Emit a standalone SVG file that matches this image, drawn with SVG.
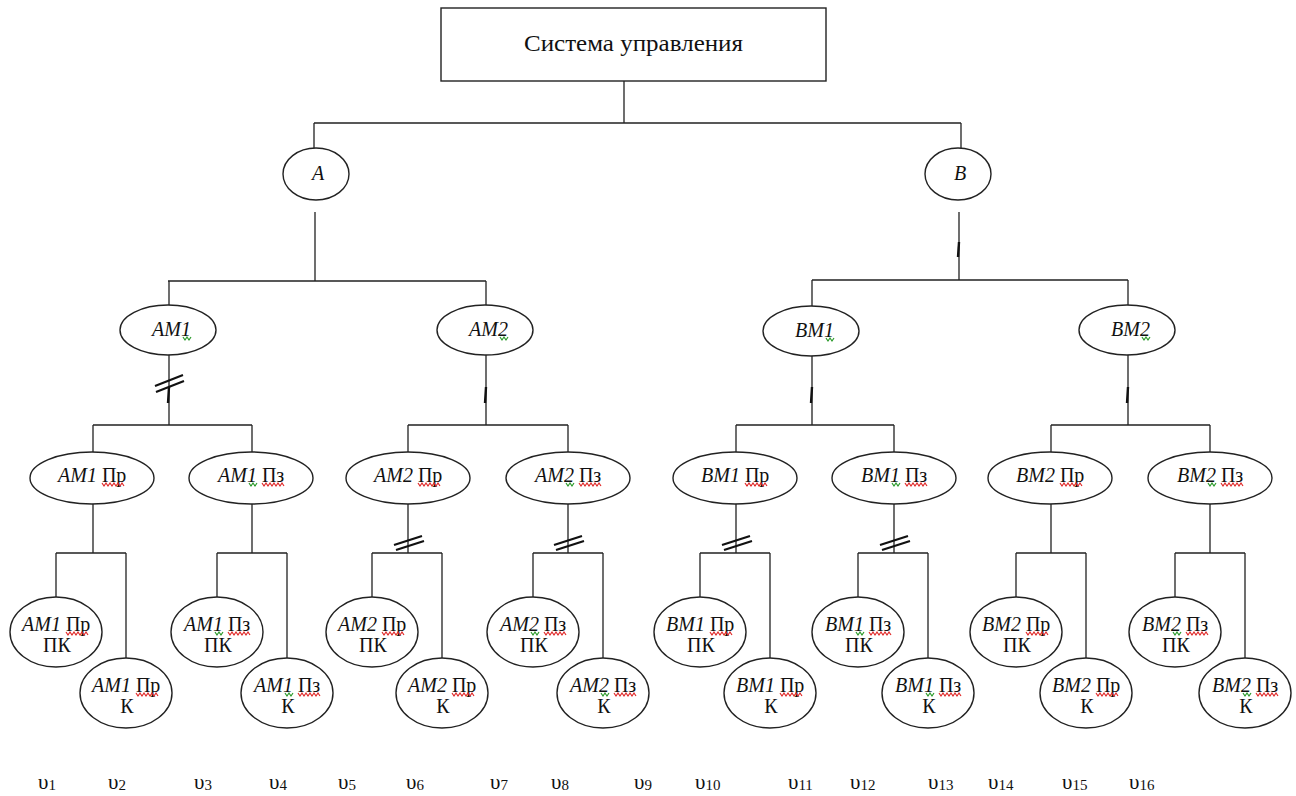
<svg xmlns="http://www.w3.org/2000/svg" xmlns:xlink="http://www.w3.org/1999/xlink" width="1296" height="796" viewBox="0 0 1296 796">
  <style>
    .box, .nd { fill: #ffffff; stroke: #222222; stroke-width: 1.4; }
    .ln { fill: none; stroke: #222222; stroke-width: 1.3; }
    .mk { fill: none; stroke: #111111; stroke-width: 2.2; }
    .tk { fill: none; stroke: #111111; stroke-width: 2.4; }
    text { font-family: "Liberation Serif", "Times New Roman", "DejaVu Serif", serif; fill: #111111; }
    .t20 { font-size: 20px; }
    .mid { text-anchor: middle; }
    .it { font-style: italic; }
    .title { font-size: 24px; text-anchor: middle; }
    .v { font-size: 21px; }
    .sub { font-size: 15px; }
  </style>
  <defs>
    <!-- proofing underline waves -->
    <path id="wr" d="M0 0l2 3 2-3 2 3 2-3 2 3 2-3 2 3 2-3 2 3 2-3 2 3" fill="none" stroke="#e02828" stroke-width="1.2"/>
    <path id="wg" d="M0 0l2 3 2-3 2 3 2-3" fill="none" stroke="#2a9a2a" stroke-width="1.2"/>
  </defs>

  <!-- connectors -->
  <g id="connectors">
    <path class="ln" d="M624 81V123M314 123H961M314 123V148M961 123V148"/>
    <path class="ln" d="M315 212V281M168 281H486M169 281V305M486 281V305"/>
    <path class="ln" d="M959 212V280M812 280H1128M812 280V306M1128 280V305"/>
    <path class="ln" d="M169 355V425M93 425H252M93 425V452M252 425V452"/>
    <path class="ln" d="M486 355V425M408 425H568M408 425V452M568 425V452"/>
    <path class="ln" d="M812 356V425M736 425H894M736 425V452M894 425V452"/>
    <path class="ln" d="M1128 355V425M1051 425H1210M1051 425V452M1210 425V452"/>
    <!-- third level fan-outs -->
    <path class="ln" d="M93 504V553M56 553H126M56 553V597M126 553V658"/>
    <path class="ln" d="M252 504V553M217 553H287M217 553V597M287 553V658"/>
    <path class="ln" d="M408 504V553M372 553H442M372 553V597M442 553V658"/>
    <path class="ln" d="M568 504V553M533 553H603M533 553V597M603 553V658"/>
    <path class="ln" d="M736 504V553M700 553H770M700 553V597M770 553V658"/>
    <path class="ln" d="M894 504V553M858 553H928M858 553V597M928 553V658"/>
    <path class="ln" d="M1051 504V553M1016 553H1086M1016 553V597M1086 553V658"/>
    <path class="ln" d="M1210 504V553M1175 553H1245M1175 553V597M1245 553V658"/>
    <!-- single ticks -->
    <path class="tk" d="M958 257L959 242"/>
    <path class="tk" d="M168 403L169 387"/>
    <path class="tk" d="M485 403L486 387"/>
    <path class="tk" d="M811 403L812 387"/>
    <path class="tk" d="M1127 403L1128 387"/>
    <!-- double hashes -->
    <path class="mk" d="M155 386L183 375M156 392L184 381"/>
    <path class="mk" d="M394 545L422 536M396 550L424 541"/>
    <path class="mk" d="M554 545L582 536M556 550L584 541"/>
    <path class="mk" d="M722 545L750 536M724 550L752 541"/>
    <path class="mk" d="M880 545L908 536M882 550L910 541"/>
  </g>

  <!-- root -->
  <g id="n-system">
    <rect class="box" x="441" y="8" width="385" height="73"/>
    <text class="title" x="633.5" y="51" textLength="219" lengthAdjust="spacingAndGlyphs">Система управления</text>
  </g>

  <!-- first level -->
  <g id="n-A">
    <ellipse class="nd" cx="316" cy="174" rx="33" ry="26"/>
    <text class="t20 it mid" x="318" y="180">A</text>
  </g>
  <g id="n-B">
    <ellipse class="nd" cx="958" cy="174" rx="33" ry="26"/>
    <text class="t20 it mid" x="960" y="180">B</text>
  </g>

  <!-- second level -->
  <g id="n-AM1">
    <ellipse class="nd" cx="168" cy="330" rx="48" ry="25"/>
    <text class="t20 it" x="152" y="336">AM1</text>
    <use xlink:href="#wg" x="183" y="337"/>
  </g>
  <g id="n-AM2">
    <ellipse class="nd" cx="485" cy="330" rx="48" ry="25"/>
    <text class="t20 it" x="469" y="336">AM2</text>
    <use xlink:href="#wg" x="500" y="337"/>
  </g>
  <g id="n-BM1">
    <ellipse class="nd" cx="811" cy="331" rx="48" ry="25"/>
    <text class="t20 it" x="795" y="337">BM1</text>
    <use xlink:href="#wg" x="826" y="338"/>
  </g>
  <g id="n-BM2">
    <ellipse class="nd" cx="1127" cy="330" rx="48" ry="25"/>
    <text class="t20 it" x="1111" y="336">BM2</text>
    <use xlink:href="#wg" x="1142" y="337"/>
  </g>

  <!-- third level -->
  <g id="n-AM1-Pr">
    <ellipse class="nd" cx="92" cy="478" rx="62" ry="26"/>
    <text class="t20" x="58" y="482"><tspan class="it">AM1</tspan> Пр</text>
    <use xlink:href="#wr" x="102" y="483"/>
  </g>
  <g id="n-AM1-Pz">
    <ellipse class="nd" cx="251" cy="478" rx="62" ry="26"/>
    <text class="t20" x="218" y="482"><tspan class="it">AM1</tspan> Пз</text>
    <use xlink:href="#wg" x="249" y="483"/>
    <use xlink:href="#wr" x="262" y="483"/>
  </g>
  <g id="n-AM2-Pr">
    <ellipse class="nd" cx="408" cy="478" rx="62" ry="26"/>
    <text class="t20" x="374" y="482"><tspan class="it">AM2</tspan> Пр</text>
    <use xlink:href="#wr" x="418" y="483"/>
  </g>
  <g id="n-AM2-Pz">
    <ellipse class="nd" cx="568" cy="478" rx="62" ry="26"/>
    <text class="t20" x="535" y="482"><tspan class="it">AM2</tspan> Пз</text>
    <use xlink:href="#wg" x="566" y="483"/>
    <use xlink:href="#wr" x="579" y="483"/>
  </g>
  <g id="n-BM1-Pr">
    <ellipse class="nd" cx="735" cy="478" rx="62" ry="26"/>
    <text class="t20" x="701" y="482"><tspan class="it">BM1</tspan> Пр</text>
    <use xlink:href="#wr" x="745" y="483"/>
  </g>
  <g id="n-BM1-Pz">
    <ellipse class="nd" cx="894" cy="478" rx="62" ry="26"/>
    <text class="t20" x="861" y="482"><tspan class="it">BM1</tspan> Пз</text>
    <use xlink:href="#wg" x="892" y="483"/>
    <use xlink:href="#wr" x="905" y="483"/>
  </g>
  <g id="n-BM2-Pr">
    <ellipse class="nd" cx="1050" cy="478" rx="62" ry="26"/>
    <text class="t20" x="1016" y="482"><tspan class="it">BM2</tspan> Пр</text>
    <use xlink:href="#wr" x="1060" y="483"/>
  </g>
  <g id="n-BM2-Pz">
    <ellipse class="nd" cx="1210" cy="478" rx="62" ry="26"/>
    <text class="t20" x="1177" y="482"><tspan class="it">BM2</tspan> Пз</text>
    <use xlink:href="#wg" x="1208" y="483"/>
    <use xlink:href="#wr" x="1221" y="483"/>
  </g>

  <!-- fourth level: ПК / К -->
  <g id="n-AM1-Pr-PK">
    <ellipse class="nd" cx="56" cy="632" rx="46" ry="35"/>
    <text class="t20" x="22" y="631"><tspan class="it">AM1</tspan> Пр</text>
    <use xlink:href="#wr" x="66" y="632"/>
    <text class="t20 mid" x="57" y="652">ПК</text>
  </g>
  <g id="n-AM1-Pr-K">
    <ellipse class="nd" cx="126" cy="693" rx="46" ry="35"/>
    <text class="t20" x="92" y="692"><tspan class="it">AM1</tspan> Пр</text>
    <use xlink:href="#wr" x="136" y="693"/>
    <text class="t20 mid" x="127" y="713">К</text>
  </g>
  <g id="n-AM1-Pz-PK">
    <ellipse class="nd" cx="217" cy="632" rx="46" ry="35"/>
    <text class="t20" x="184" y="631"><tspan class="it">AM1</tspan> Пз</text>
    <use xlink:href="#wg" x="215" y="632"/>
    <use xlink:href="#wr" x="228" y="632"/>
    <text class="t20 mid" x="218" y="652">ПК</text>
  </g>
  <g id="n-AM1-Pz-K">
    <ellipse class="nd" cx="287" cy="693" rx="46" ry="35"/>
    <text class="t20" x="254" y="692"><tspan class="it">AM1</tspan> Пз</text>
    <use xlink:href="#wg" x="285" y="693"/>
    <use xlink:href="#wr" x="298" y="693"/>
    <text class="t20 mid" x="288" y="713">К</text>
  </g>
  <g id="n-AM2-Pr-PK">
    <ellipse class="nd" cx="372" cy="632" rx="46" ry="35"/>
    <text class="t20" x="338" y="631"><tspan class="it">AM2</tspan> Пр</text>
    <use xlink:href="#wr" x="382" y="632"/>
    <text class="t20 mid" x="373" y="652">ПК</text>
  </g>
  <g id="n-AM2-Pr-K">
    <ellipse class="nd" cx="442" cy="693" rx="46" ry="35"/>
    <text class="t20" x="408" y="692"><tspan class="it">AM2</tspan> Пр</text>
    <use xlink:href="#wr" x="452" y="693"/>
    <text class="t20 mid" x="443" y="713">К</text>
  </g>
  <g id="n-AM2-Pz-PK">
    <ellipse class="nd" cx="533" cy="632" rx="46" ry="35"/>
    <text class="t20" x="500" y="631"><tspan class="it">AM2</tspan> Пз</text>
    <use xlink:href="#wg" x="531" y="632"/>
    <use xlink:href="#wr" x="544" y="632"/>
    <text class="t20 mid" x="534" y="652">ПК</text>
  </g>
  <g id="n-AM2-Pz-K">
    <ellipse class="nd" cx="603" cy="693" rx="46" ry="35"/>
    <text class="t20" x="570" y="692"><tspan class="it">AM2</tspan> Пз</text>
    <use xlink:href="#wg" x="601" y="693"/>
    <use xlink:href="#wr" x="614" y="693"/>
    <text class="t20 mid" x="604" y="713">К</text>
  </g>
  <g id="n-BM1-Pr-PK">
    <ellipse class="nd" cx="700" cy="632" rx="46" ry="35"/>
    <text class="t20" x="666" y="631"><tspan class="it">BM1</tspan> Пр</text>
    <use xlink:href="#wr" x="710" y="632"/>
    <text class="t20 mid" x="701" y="652">ПК</text>
  </g>
  <g id="n-BM1-Pr-K">
    <ellipse class="nd" cx="770" cy="693" rx="46" ry="35"/>
    <text class="t20" x="736" y="692"><tspan class="it">BM1</tspan> Пр</text>
    <use xlink:href="#wr" x="780" y="693"/>
    <text class="t20 mid" x="771" y="713">К</text>
  </g>
  <g id="n-BM1-Pz-PK">
    <ellipse class="nd" cx="858" cy="632" rx="46" ry="35"/>
    <text class="t20" x="825" y="631"><tspan class="it">BM1</tspan> Пз</text>
    <use xlink:href="#wg" x="856" y="632"/>
    <use xlink:href="#wr" x="869" y="632"/>
    <text class="t20 mid" x="859" y="652">ПК</text>
  </g>
  <g id="n-BM1-Pz-K">
    <ellipse class="nd" cx="928" cy="693" rx="46" ry="35"/>
    <text class="t20" x="895" y="692"><tspan class="it">BM1</tspan> Пз</text>
    <use xlink:href="#wg" x="926" y="693"/>
    <use xlink:href="#wr" x="939" y="693"/>
    <text class="t20 mid" x="929" y="713">К</text>
  </g>
  <g id="n-BM2-Pr-PK">
    <ellipse class="nd" cx="1016" cy="632" rx="46" ry="35"/>
    <text class="t20" x="982" y="631"><tspan class="it">BM2</tspan> Пр</text>
    <use xlink:href="#wr" x="1026" y="632"/>
    <text class="t20 mid" x="1017" y="652">ПК</text>
  </g>
  <g id="n-BM2-Pr-K">
    <ellipse class="nd" cx="1086" cy="693" rx="46" ry="35"/>
    <text class="t20" x="1052" y="692"><tspan class="it">BM2</tspan> Пр</text>
    <use xlink:href="#wr" x="1096" y="693"/>
    <text class="t20 mid" x="1087" y="713">К</text>
  </g>
  <g id="n-BM2-Pz-PK">
    <ellipse class="nd" cx="1175" cy="632" rx="46" ry="35"/>
    <text class="t20" x="1142" y="631"><tspan class="it">BM2</tspan> Пз</text>
    <use xlink:href="#wg" x="1173" y="632"/>
    <use xlink:href="#wr" x="1186" y="632"/>
    <text class="t20 mid" x="1176" y="652">ПК</text>
  </g>
  <g id="n-BM2-Pz-K">
    <ellipse class="nd" cx="1245" cy="693" rx="46" ry="35"/>
    <text class="t20" x="1212" y="692"><tspan class="it">BM2</tspan> Пз</text>
    <use xlink:href="#wg" x="1243" y="693"/>
    <use xlink:href="#wr" x="1256" y="693"/>
    <text class="t20 mid" x="1246" y="713">К</text>
  </g>

  <!-- bottom variable row -->
  <g id="variables">
    <text class="v" x="38" y="789">υ<tspan class="sub" dy="1">1</tspan></text>
    <text class="v" x="108" y="789">υ<tspan class="sub" dy="1">2</tspan></text>
    <text class="v" x="194" y="789">υ<tspan class="sub" dy="1">3</tspan></text>
    <text class="v" x="269" y="789">υ<tspan class="sub" dy="1">4</tspan></text>
    <text class="v" x="338" y="789">υ<tspan class="sub" dy="1">5</tspan></text>
    <text class="v" x="406" y="789">υ<tspan class="sub" dy="1">6</tspan></text>
    <text class="v" x="490" y="789">υ<tspan class="sub" dy="1">7</tspan></text>
    <text class="v" x="551" y="789">υ<tspan class="sub" dy="1">8</tspan></text>
    <text class="v" x="634" y="789">υ<tspan class="sub" dy="1">9</tspan></text>
    <text class="v" x="695" y="789">υ<tspan class="sub" dy="1">10</tspan></text>
    <text class="v" x="788" y="789">υ<tspan class="sub" dy="1">11</tspan></text>
    <text class="v" x="850" y="789">υ<tspan class="sub" dy="1">12</tspan></text>
    <text class="v" x="928" y="789">υ<tspan class="sub" dy="1">13</tspan></text>
    <text class="v" x="988" y="789">υ<tspan class="sub" dy="1">14</tspan></text>
    <text class="v" x="1062" y="789">υ<tspan class="sub" dy="1">15</tspan></text>
    <text class="v" x="1129" y="789">υ<tspan class="sub" dy="1">16</tspan></text>
  </g>
</svg>
